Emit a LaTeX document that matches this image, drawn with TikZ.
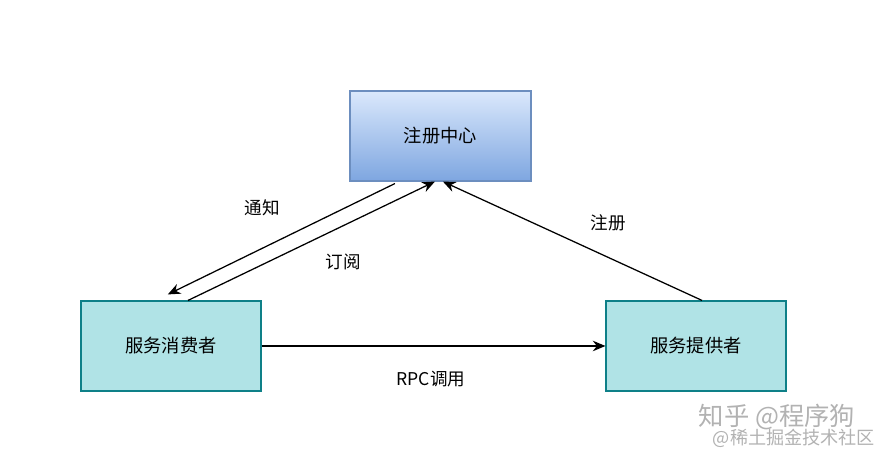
\documentclass[tikz,border=0pt]{standalone}
\usepackage{fontspec}
\setmainfont{Noto Sans CJK SC}
\usepackage{xcolor}
\usetikzlibrary{calc, arrows.meta, positioning}

\definecolor{regtop}{HTML}{DAE8FC}
\definecolor{regbot}{HTML}{7EA6E0}
\definecolor{regline}{HTML}{6C8EBF}
\definecolor{svcfill}{HTML}{B0E3E6}
\definecolor{svcline}{HTML}{0E8088}

\tikzset{
    regbox/.style={draw=regline, thick, top color=regtop, bottom color=regbot,
        minimum width=4.525cm, minimum height=2.25cm, font=\fontsize{13}{15}\selectfont},
    svcbox/.style={draw=svcline, fill=svcfill, thick,
        minimum width=4.5cm, minimum height=2.25cm, font=\fontsize{13}{15}\selectfont},
    flow/.style={line width=0.9pt, -{Stealth[length=9pt, width=7.5pt]}},
    tag/.style={font=\fontsize{12.5}{14}\selectfont}
}

\begin{document}
\begin{tikzpicture}
            \useasboundingbox (0,0) rectangle (22.025,11.325);
            % Boxes
            \node[regbox] (reg) at (11.0125,7.925) {注册中心};
            \node[svcbox] (cons) at (4.275,2.675) {服务消费者};
            \node[svcbox] (prov) at (17.4,2.675) {服务提供者};
            % Connectors
            \draw[flow] ($(reg.south)+(-1.14,-0.05)$) -- ($(cons.north)+(-0.08,0.15)$);
            \draw[flow] ($(cons.north)+(0.425,0)$) -- ($(reg.south)+(-0.14,0)$);
            \draw[flow] ($(prov.north)+(0.15,0)$) -- ($(reg.south)+(0.06,0)$);
            \draw[flow] (cons.east) -- (prov.west);
            % Labels
            \node[tag] (tz) at (6.55,6.125) {通知};
            \node[tag] (dy) at (8.575,4.775) {订阅};
            \node[tag] (zc) at (15.2,5.75) {注册};
            \node[tag] (rpc) at (10.775,1.85) {RPC调用};
            % Watermark
            \node[text=black!30, font=\fontsize{18}{20}\selectfont] (wm1) at (19.425,0.9) {知乎 @程序狗};
            \node[text=black!30, font=\fontsize{12.9}{14}\selectfont] (wm2) at (19.85,0.375) {@稀土掘金技术社区};
        \end{tikzpicture}
\end{document}
